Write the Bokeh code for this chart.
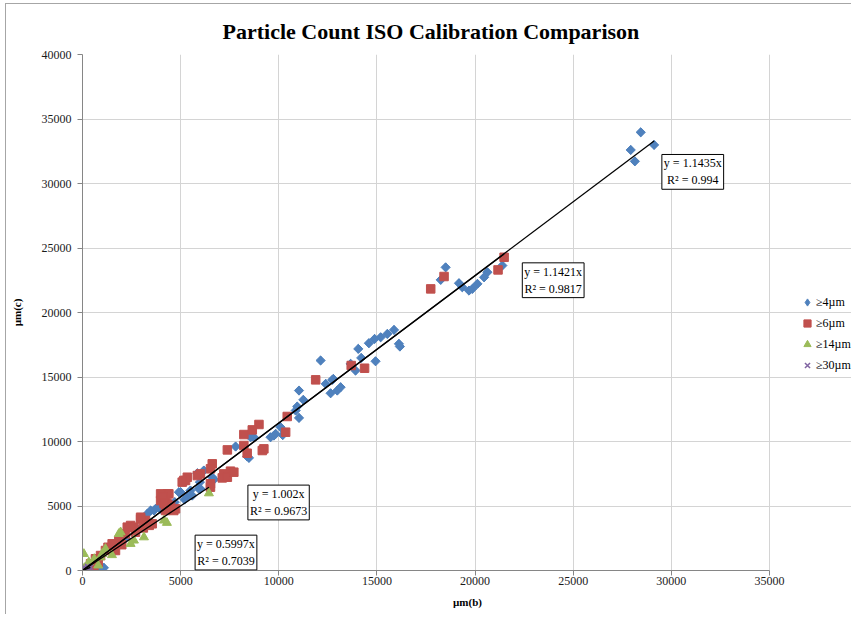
import numpy as np
from bokeh.plotting import figure
from bokeh.models import FixedTicker, Legend, LegendItem, Label, Range1d
from bokeh.embed import file_html
from bokeh.resources import INLINE

# ---------------- data ----------------
series_names = ["≥4µm", "≥6µm", "≥14µm", "≥30µm"]

x4 = [28440, 27930, 28140, 29120, 18500, 18250, 19180, 19350, 19690, 19860,
      20120, 20460, 20630, 21390, 15870, 15530, 15190, 14880, 14590, 14050,
      16120, 16170, 14200, 14930, 13660, 13910, 12130, 12780, 12730, 12390,
      13150, 12980, 12640, 11030, 11250, 10940, 10860, 11030, 10090, 9840,
      9580, 9750, 10200, 8560, 8730, 7800, 8390, 8480, 6180, 5850,
      6610, 6700, 5980, 4910, 5000, 5340, 5590, 6010, 5500, 5930,
      5200, 4700, 3640, 3300, 3980, 3720, 3470, 3890, 3100, 2800,
      2200, 1500, 500, 200, 920, 1090]
y4 = [33970, 32600, 31720, 32990, 23500, 22530, 22270, 21960, 21700, 21830,
      22220, 22730, 23120, 23640, 18650, 18340, 18080, 17950, 17620, 17180,
      17570, 17360, 16480, 16220, 16020, 15500, 16280, 14850, 14780, 14470,
      14210, 13950, 13740, 13950, 13230, 12710, 12400, 11830, 11110, 10590,
      10330, 10460, 10500, 10330, 10330, 9610, 8840, 8730, 7750, 7540,
      7230, 7050, 6850, 6070, 6070, 5680, 5810, 6330, 6200, 6330,
      5500, 5300, 4650, 4390, 4780, 4780, 4650, 4910, 4100, 3200,
      2500, 1700, 500, 200, 130, 210]

x6 = [21480, 21170, 18420, 17740, 13690, 14370, 11880, 10430, 10350, 8990,
      8650, 8220, 7380, 8220, 8390, 9240, 9160, 6610, 6520, 6010,
      7540, 7200, 7120, 7380, 7710, 5160, 5340, 5250, 5080, 6520,
      6520, 5850, 4320, 4400, 4230, 4490, 4740, 4230, 3980, 3980,
      4320, 4650, 4100, 4150, 3210, 2960, 3550, 2620, 2450, 2700,
      2190, 1850, 1510, 1680, 1170, 920, 660, 410, 580, 2960,
      2280, 3100, 3400, 2000, 1300, 800, 150]
y6 = [24280, 23300, 22790, 21830, 15890, 15680, 14780, 11940, 10720, 11320,
      10900, 10540, 9350, 9690, 9090, 9430, 9300, 8270, 7880, 7490,
      7700, 7490, 7180, 7230, 7620, 6980, 7230, 6980, 6850, 6460,
      6720, 7360, 5940, 5940, 5430, 5040, 4780, 4650, 5940, 5420,
      5170, 4650, 5700, 5200, 3880, 4000, 3620, 3360, 3490, 2970,
      2840, 2330, 2070, 1550, 1550, 1160, 910, 520, 130, 4130,
      3360, 3300, 3500, 2000, 1800, 600, 100]

x14 = [6440, 4150, 4300, 3130, 2620, 2450, 1940, 1850, 1170, 1000,
       920, 70, 320, 600, 1500, 100, 250, 800]
y14 = [5990, 3880, 3700, 2580, 2330, 2070, 2970, 2840, 1680, 1290,
       1030, 1290, 640, 900, 1200, 200, 100, 400]

x30 = [0, 50, 100, 150, 200, 300, 250, 80, 400, 350]
y30 = [0, 120, 40, 160, 80, 220, 320, 260, 250, 100]

slopes = [1.1435, 1.1421, 1.002, 0.5997]
r_squared = ["0.994", "0.9817", "0.9673", "0.7039"]

x_ticks = [0, 5000, 10000, 15000, 20000, 25000, 30000, 35000]
y_ticks = [0, 5000, 10000, 15000, 20000, 25000, 30000, 35000, 40000]
x_max, y_max = 35000, 40000

# ---------------- figure ----------------
SERIF = "Liberation Serif"
PLOT_W = 687          # pixel width of the 0..35000 plotting area
FRAME_W = 770         # frame extended to the right to host the legend
x_end = x_max * FRAME_W / PLOT_W

p = figure(width=846, height=611, output_backend="svg", toolbar_location=None,
           x_range=Range1d(0, x_end), y_range=Range1d(0, y_max),
           min_border_left=76, min_border_right=0, min_border_top=50,
           min_border_bottom=45)
p.styles = {"margin-left": "5px", "margin-top": "3px",
            "border-left": "1px solid #a6a6a6",
            "border-top": "1px solid #a6a6a6"}

p.title.text = "Particle Count ISO Calibration Comparison"
p.title.align = "left"
p.title.offset = 140
p.title.standoff = 21
p.title.text_font = SERIF
p.title.text_font_size = "22px"
p.title.text_font_style = "bold"
p.title.text_color = "black"

p.outline_line_color = None
p.background_fill_color = "white"
p.border_fill_color = "white"

for ax, ticks in ((p.xaxis[0], x_ticks), (p.yaxis[0], y_ticks)):
    ax.ticker = FixedTicker(ticks=ticks)
    ax.axis_line_color = "#868686"
    ax.major_tick_line_color = "#868686"
    ax.major_tick_out = 5
    ax.major_tick_in = 0
    ax.minor_tick_line_color = None
    ax.major_label_text_font = SERIF
    ax.major_label_text_font_size = "12px"
    ax.major_label_text_color = "#1a1a1a"
    ax.axis_label_text_font = SERIF
    ax.axis_label_text_font_size = "11px"
    ax.axis_label_text_font_style = "bold"
    ax.axis_label_text_color = "black"

p.xaxis.bounds = (0, x_max)
p.xaxis.axis_label = "µm(b)"
p.yaxis.axis_label = "µm(c)"
p.yaxis.major_label_standoff = 6
p.xaxis.major_label_standoff = 1
p.yaxis.axis_label_standoff = 16
p.xaxis.axis_label_standoff = 8

p.xgrid.grid_line_color = "#d4d4d4"
p.ygrid.grid_line_color = "#d4d4d4"
p.ygrid.bounds = (0, x_max)

# diamond used for the legend key (lies underneath the rotated squares)
r4_key = p.scatter(x4, y4, marker="diamond", size=8.5,
                   fill_color="#4F81BD", line_color="#4F81BD")
r4 = p.scatter(x4, y4, marker="square", angle=np.pi / 4, size=6.5,
               fill_color="#4F81BD", line_color="#4F81BD")
r6 = p.scatter(x6, y6, marker="square", size=8.5,
               fill_color="#C0504D", line_color="#C0504D")
r14 = p.scatter(x14, y14, marker="triangle", size=9,
                fill_color="#9BBB59", line_color="#9BBB59")
r30 = p.scatter(x30, y30, marker="x", size=7,
                line_color="#8064A2", line_width=1.5)

# linear trendlines through the origin
all_x = [x4, x6, x14, x30]
for xs, m in zip(all_x, slopes):
    xm = max(xs)
    p.line([0, xm], [0, m * xm], line_color="black", line_width=1.3)

# trendline equation boxes (x = centre, y = top, data units)
box_pos = [(31090, 32250), (23980, 23850), (9990, 6620), (7310, 2740)]
for (bx, by), m, r2 in zip(box_pos, slopes, r_squared):
    p.add_layout(Label(x=bx, y=by, text=f"y = {m}x\nR² = {r2}",
                       text_font=SERIF, text_font_size="12px",
                       text_align="center", text_baseline="top",
                       text_color="black",
                       border_line_color="black", border_line_width=1,
                       background_fill_color="white", padding=2))

legend = Legend(items=[LegendItem(label=n, renderers=[r])
                       for n, r in zip(series_names, [r4_key, r6, r14, r30])],
                location=(716, 196), padding=0, margin=0, spacing=3,
                glyph_width=18, glyph_height=18, label_height=18,
                label_standoff=-4, label_text_font=SERIF,
                label_text_font_size="12px", label_text_color="black",
                border_line_color=None, background_fill_alpha=0)
p.add_layout(legend, "center")

open("out.html", "w").write(file_html(p, INLINE))
